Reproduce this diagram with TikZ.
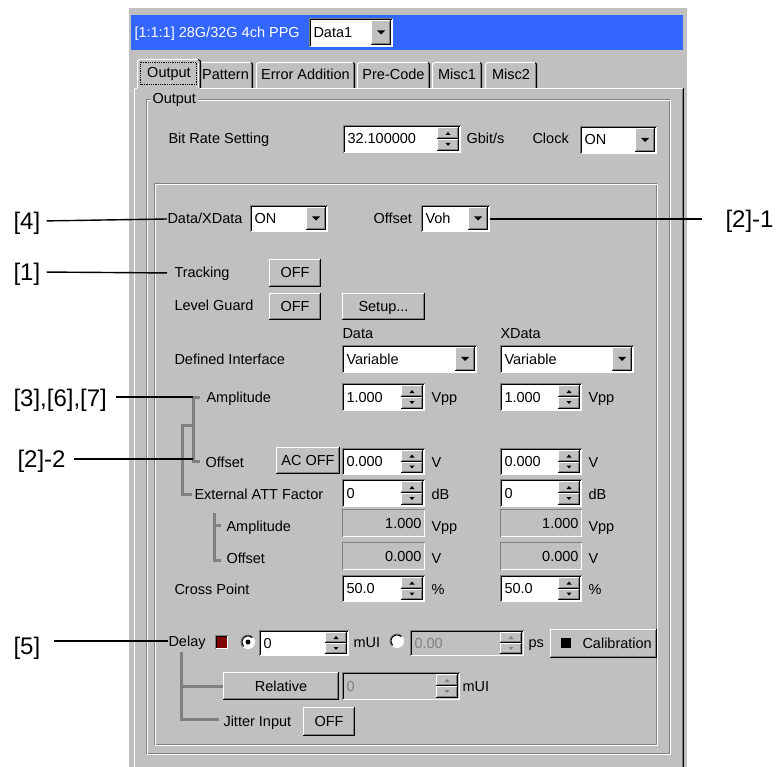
\documentclass[tikz,border=0pt]{standalone}
\usepackage{fontspec}
\setmainfont{Liberation Sans}
\definecolor{face}{RGB}{192,192,192}
\definecolor{shadow}{RGB}{128,128,128}
\definecolor{titleblue}{RGB}{51,102,255}
\definecolor{darkred}{RGB}{128,0,0}
\newcommand{\guifont}{\fontsize{14.5}{17}\selectfont}
\newcommand{\callfont}{\fontsize{24}{28}\selectfont}
% sunken frame: fill, x1, y1, x2, y2
\newcommand{\sunkbox}[5]{%
  \fill[#1] ({#2},{#3}) rectangle ({#4},{#5});
  \draw[shadow] ({#2+.5},{#5}) -- ({#2+.5},{#3+.5}) -- ({#4},{#3+.5});
  \draw[black] ({#2+1.5},{#5-1}) -- ({#2+1.5},{#3+1.5}) -- ({#4-1},{#3+1.5});
  \draw[white] ({#2+1},{#5-.5}) -- ({#4-.5},{#5-.5}) -- ({#4-.5},{#3+1});
}
% raised face: x1, y1, x2, y2
\newcommand{\raisebtn}[4]{%
  \fill[face] ({#1},{#2}) rectangle ({#3},{#4});
  \draw[white] ({#1+.5},{#4-1}) -- ({#1+.5},{#2+.5}) -- ({#3-1},{#2+.5});
  \draw[shadow] ({#1+1},{#4-1.5}) -- ({#3-1.5},{#4-1.5}) -- ({#3-1.5},{#2+1});
  \draw[black] ({#1},{#4-.5}) -- ({#3-.5},{#4-.5}) -- ({#3-.5},{#2});
}
\newcommand{\guibtn}[6]{% name, x1, y1, x2, y2, text
  \raisebtn{#2}{#3}{#4}{#5}
  \node[gui, anchor=center] (#1) at ({(#2+#4)/2},{(#3+#5)/2}) {#6};
}
\newcommand{\guicombo}[6]{% name, x1, y1, x2, y2, text
  \sunkbox{white}{#2}{#3}{#4}{#5}
  \raisebtn{#4-22}{#3+2}{#4-2}{#5-2}
  \fill ({#4-16},{(#3+#5)/2-2}) -- ++(8,0) -- ++(-4,4) -- cycle;
  \node[gui] (#1) at ({#2+4},{(#3+#5)/2}) {#6};
}
\newcommand{\spinbase}[8]{% fill, ink, name, x1, y1, x2, y2, text
  \sunkbox{#1}{#4}{#5}{#6}{#7}
  \raisebtn{#6-24}{#5+2}{#6-2}{(#5+#7)/2}
  \raisebtn{#6-24}{(#5+#7)/2}{#6-2}{#7-2}
  \fill[#2] ({#6-15.5},{(#5+#7)/2-4}) -- ++(5,0) -- ++(-2.5,-3) -- cycle;
  \fill[#2] ({#6-15.5},{(#5+#7)/2+4}) -- ++(5,0) -- ++(-2.5,3) -- cycle;
  \node[gui, text=#2] (#3) at ({#4+4},{(#5+#7)/2}) {#8};
}
\newcommand{\guispin}[6]{\spinbase{white}{black}{#1}{#2}{#3}{#4}{#5}{#6}}
\newcommand{\dimspin}[6]{\spinbase{face}{shadow}{#1}{#2}{#3}{#4}{#5}{#6}}
\newcommand{\rofield}[6]{% name, x1, y1, x2, y2, value
  \draw[shadow] ({#2+.5},{#5}) -- ({#2+.5},{#3+.5}) -- ({#4},{#3+.5});
  \draw[white] ({#2+1},{#5-.5}) -- ({#4-.5},{#5-.5}) -- ({#4-.5},{#3+1});
  \node[gui, anchor=east] (#1) at ({#4-3},{(#3+#5)/2}) {#6};
}
\newcommand{\guiradio}[3]{% x, y, dot radius
  \fill[white] ({#1},{#2}) circle (7);
  \draw[shadow] ([shift={(135:7)}]{#1},{#2}) arc (135:315:7);
  \draw[black] ([shift={(135:6)}]{#1},{#2}) arc (135:315:6);
  \fill[black] ({#1},{#2}) circle (#3);
}

\begin{document}
\begin{tikzpicture}[x=1pt, y=-1pt, line width=1pt,
  gui/.style={font=\guifont, inner sep=0pt, anchor=west, text height=11pt, text depth=1pt},
  callout/.style={font=\callfont, inner sep=0pt, anchor=west, text height=17pt, text depth=0pt},
  lead/.style={line width=1.4pt},
  tree/.style={draw=shadow, line width=3pt}]

\useasboundingbox (0,0) rectangle (782,767);

% window and title bar
\fill[face] (128,7) rectangle (687,767);
\draw[white] (128.5,767) -- (128.5,7.5) -- (687,7.5);
\fill[titleblue] (131,15) rectangle (683,50);
\node[gui, text=white] (title) at (134,33) {[1:1:1] 28G/32G 4ch PPG};
\guicombo{unit}{309}{18}{393}{47}{Data1}

% tabs
\foreach \xa/\xb/\tab in {198/253/Pattern, 256/355/Error Addition, 357/430/Pre-Code, 432/482/Misc1, 485/537/Misc2}{
  \draw[white] (\xa+.5,88) -- (\xa+.5,64) -- (\xa+2.5,62.5) -- (\xb-2,62.5);
  \draw[black] (\xb-2,62.5) -- (\xb-.5,64) -- (\xb-.5,88);
  \draw[shadow] (\xb-1.5,64) -- (\xb-1.5,88);
  \node[gui, anchor=center] (tab\xa) at ({(\xa+\xb)/2},75) {\tab};
}
\draw[white] (137.5,88) -- (137.5,61) -- (139.5,59.5) -- (198,59.5);
\draw[black] (198,59.5) -- (200.5,61) -- (200.5,88);
\draw[shadow] (199.5,61) -- (199.5,88);
\node[gui, anchor=center] (tabout) at (169,73) {Output};
\draw[densely dotted, line width=.8pt] (140.5,62.5) rectangle (196.5,84.5);

% tab panel
\draw[white] (134.5,767) -- (134.5,88.5) -- (137,88.5);
\draw[white] (200,88.5) -- (683,88.5);
\draw[shadow] (682.5,89) -- (682.5,767);
\draw[black] (683.5,88) -- (683.5,767);

% group frames
\draw[shadow] (146.5,99.5) rectangle (669.5,753.5);
\draw[white] (147.5,100.5) rectangle (670.5,754.5);
\node[gui, fill=face, inner xsep=2pt] (grp) at (150,99) {Output};
\draw[shadow] (154.5,183.5) rectangle (656.5,744.5);
\draw[white] (155.5,184.5) rectangle (657.5,745.5);

% bit rate
\node[gui] (brs) at (168,139) {Bit Rate Setting};
\guispin{rate}{343}{125}{461}{153}{32.100000}
\node[gui] (gbps) at (466,139) {Gbit/s};
\node[gui] (clk) at (532,139) {Clock};
\guicombo{clkon}{580}{126}{657}{154}{ON}

% data/xdata and offset
\node[gui] (dx) at (167,219) {Data/XData};
\guicombo{dxon}{250}{205}{328}{232}{ON}
\node[gui] (offl) at (373,219) {Offset};
\guicombo{voh}{421}{205}{490}{232}{Voh}
\coordinate (vohend) at (490,219);

% tracking, level guard
\node[gui] (trk) at (174,273) {Tracking};
\guibtn{trkoff}{269}{259}{321}{287}{OFF}
\node[gui] (lvg) at (174,306) {Level Guard};
\guibtn{lvgoff}{269}{293}{321}{320}{OFF}
\guibtn{setup}{342}{293}{425}{320}{Setup...}

% defined interface
\node[gui] (hdata) at (342,334) {Data};
\node[gui] (hxdata) at (500,334) {XData};
\node[gui] (dfi) at (174,359) {Defined Interface};
\guicombo{varD}{342}{345}{477}{373}{Variable}
\guicombo{varX}{500}{345}{634}{373}{Variable}

% amplitude, offset, att
\node[gui] (amp) at (206,397) {Amplitude};
\guispin{ampD}{342}{383}{425}{411}{1.000}
\node[gui] (vppD) at (431,397) {Vpp};
\guispin{ampX}{500}{383}{582}{411}{1.000}
\node[gui] (vppX) at (588,397) {Vpp};

\node[gui] (ofs) at (205,462) {Offset};
\guibtn{acoff}{276}{447}{340}{474}{AC OFF}
\guispin{ofsD}{342}{448}{425}{475}{0.000}
\node[gui] (vD) at (431,462) {V};
\guispin{ofsX}{500}{448}{582}{475}{0.000}
\node[gui] (vX) at (588,462) {V};

\node[gui] (att) at (194,494) {External ATT Factor};
\guispin{attD}{342}{479}{425}{507}{0}
\node[gui] (dbD) at (431,494) {dB};
\guispin{attX}{500}{479}{582}{507}{0}
\node[gui] (dbX) at (588,494) {dB};

\node[gui] (amp2) at (226,526) {Amplitude};
\rofield{amp2D}{342}{509}{425}{537}{1.000}
\node[gui] (vpp2D) at (431,526) {Vpp};
\rofield{amp2X}{500}{509}{582}{537}{1.000}
\node[gui] (vpp2X) at (588,526) {Vpp};

\node[gui] (ofs2) at (226,558) {Offset};
\rofield{ofs2D}{342}{542}{425}{570}{0.000}
\node[gui] (v2D) at (431,558) {V};
\rofield{ofs2X}{500}{542}{582}{570}{0.000}
\node[gui] (v2X) at (588,558) {V};

\node[gui] (crs) at (174,589) {Cross Point};
\guispin{crsD}{342}{575}{425}{602}{50.0}
\node[gui] (pctD) at (431,589) {\%};
\guispin{crsX}{500}{575}{582}{602}{50.0}
\node[gui] (pctX) at (588,589) {\%};

% delay
\node[gui] (dly) at (168,641) {Delay};
\sunkbox{darkred}{215}{635}{228}{649}
\guiradio{248}{642}{2.5}
\guispin{dlymui}{259}{630}{349}{656}{0}
\node[gui] (mui) at (353,642) {mUI};
\guiradio{397}{641}{0}
\dimspin{dlyps}{410}{630}{524}{656}{0.00}
\node[gui] (ps) at (528,642) {ps};
\raisebtn{550}{629}{657}{658}
\fill[black] (561,638) rectangle (571,648);
\node[gui] (calib) at (582,643) {Calibration};

\guibtn{rel}{223}{672}{339}{700}{Relative}
\dimspin{relmui}{342}{672}{460}{700}{0}
\node[gui] (mui2) at (462,686) {mUI};
\node[gui] (jit) at (223,721) {Jitter Input};
\guibtn{jitoff}{303}{707}{355}{736}{OFF}

% tree lines
\draw[tree] (200,397) -- (193,397) -- (193,461) -- (200,461);
\draw[tree] (193,425) -- (182,425) -- (182,494) -- (192,494);
\draw[tree] (214,513) -- (214,560) -- (221,560);
\draw[tree] (214,525) -- (221,525);
\draw[tree] (181,652) -- (181,719) -- (219,719);
\draw[tree] (181,686) -- (223,686);

% callouts
\coordinate (ampend) at (193,397);
\coordinate (ofsend) at (193,459);
\node[callout] (c4) at (13,221) {[4]};
\node[callout] (c1) at (13,272) {[1]};
\node[callout] (c367) at (13,398) {[3],[6],[7]};
\node[callout] (c22) at (17,459) {[2]-2};
\node[callout] (c5) at (13,646) {[5]};
\node[callout] (c21) at (725,219) {[2]-1};

\draw[lead, shorten <=6pt] (c4.east) -- (dx.west);
\draw[lead, shorten <=6pt, shorten >=7pt] (c1.east) -- (trk.west);
\draw[lead, shorten <=9pt] (c367.east |- ampend) -- (ampend);
\draw[lead, shorten <=8pt] (c22.east |- ofsend) -- (ofsend);
\draw[lead, shorten <=13pt] (c5.east |- dly.west) -- (dly.west);
\draw[lead, shorten >=23pt] (vohend) -- (c21.west);

\end{tikzpicture}
\end{document}
